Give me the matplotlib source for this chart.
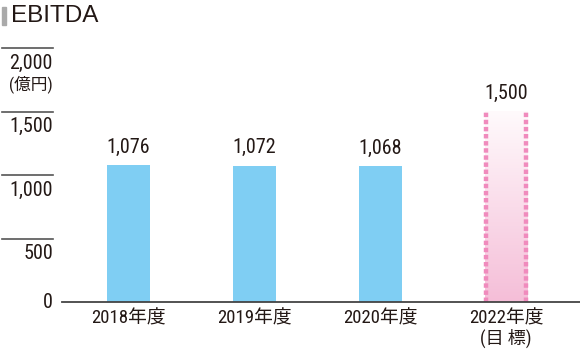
import matplotlib.pyplot as plt
import matplotlib.transforms as mtransforms
from matplotlib.colors import LinearSegmentedColormap
import numpy as np

plt.rcParams['font.family'] = ['Roboto Condensed', 'Noto Sans CJK JP', 'DejaVu Sans']

years = ['2018年度', '2019年度', '2020年度', '2022年度']
values = [1076, 1072, 1068, 1500]
value_labels = ['1,076', '1,072', '1,068', '1,500']
yticks = [500, 1000, 1500, 2000]
ytick_labels = ['500', '1,000', '1,500', '2,000']

fig = plt.figure(figsize=(5.8, 3.56), dpi=100)
ax = fig.add_axes([62 / 580, (356 - 302) / 356, 518 / 580, 254 / 356])
ax.set_xlim(-0.524, 3.587)
ax.set_ylim(0, 2000)
ax.axis('off')

bw = 0.341
x = np.arange(len(years))
txt = '#231815'

# 実績 (青)
ax.bar(x[:3], values[:3], width=bw, color='#7fcef3', zorder=2)

# 目標 (ピンクのグラデーション)
cmap = LinearSegmentedColormap.from_list('pk', ['#f5bed8', '#fffafc'])
grad = np.linspace(0, 1, 256).reshape(-1, 1)
x0, x1 = x[3] - bw / 2, x[3] + bw / 2
ax.imshow(grad, extent=[x0, x1, 0, values[3]], origin='lower', cmap=cmap,
          aspect='auto', zorder=2)
for xe in (x0 + 0.012, x1 - 0.012):
    ax.plot([xe, xe], [0, values[3]], color='#f08bbd', lw=3.2,
            ls=(0, (1.0, 0.6)), zorder=3, solid_capstyle='butt')

# 値ラベル
for xi, v, s in zip(x, values, value_labels):
    ax.text(xi, v + 70, s, ha='center', va='bottom', fontsize=14.5, color=txt)

# 横軸
ax.plot([-0.524, 3.587], [0, 0], color='#444444', lw=1.3, clip_on=False, zorder=4)
for xi, s in zip(x, years):
    ax.text(xi, -130, s, ha='center', va='center', fontsize=13.5, color=txt)
ax.text(x[3], -290, '(目 標)', ha='center', va='center', fontsize=13, color=txt)

# 縦軸の目盛り
tr = mtransforms.blended_transform_factory(fig.transFigure, ax.transData)
for t, s in zip(yticks, ytick_labels):
    ax.plot([2 / 580, 53 / 580], [t, t], color='#555555', lw=1.2,
            transform=tr, clip_on=False)
    ax.text(53 / 580, t - 118, s, ha='right', va='center', fontsize=14.5,
            color=txt, transform=tr)
ax.text(53 / 580, 0, '0', ha='right', va='center', fontsize=14.5,
        color=txt, transform=tr)
ax.text(53 / 580, 1715, '(億円)', ha='right', va='center', fontsize=12,
        color=txt, transform=tr)

# タイトル
fig.patches.append(plt.Rectangle((2 / 580, (356 - 25) / 356), 4 / 580, 18 / 356,
                                 transform=fig.transFigure, color='#aaaaaa'))
fig.text(11 / 580, (356 - 16) / 356, 'EBITDA', fontsize=17.5, va='center',
         ha='left', color=txt, family=['Liberation Sans', 'DejaVu Sans'])

fig.savefig('out.png', dpi=100)
